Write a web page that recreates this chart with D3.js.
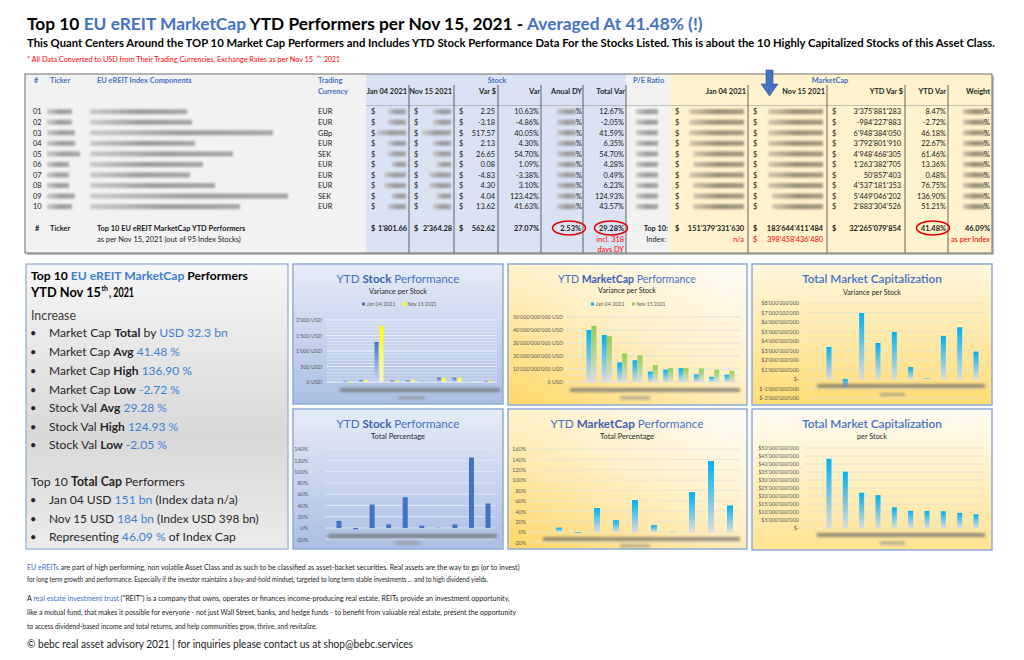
<!DOCTYPE html>
<html><head><meta charset="utf-8">
<script src="https://cdn.jsdelivr.net/npm/d3@7"></script>
<style>body{margin:0;background:#fff;} svg{display:block;}</style>
</head><body>
<svg id="c" width="1024" height="660"></svg>
<script>
// ---------------- DATA ----------------
const rowIds = ["01","02","03","04","05","06","07","08","09","10"];
const currencies = ["EUR","EUR","GBp","EUR","SEK","EUR","EUR","EUR","SEK","EUR"];
const stockJan = [21.17,65.43,1292.3,49.53,48.72,7.34,142.9,138.7,3.27,32.72];
const stockNov = [23.42,62.25,1809.9,51.66,75.37,7.42,138.07,143.0,7.31,46.34];
const stockVarUsd = [2.25,-3.18,517.57,2.13,26.65,0.08,-4.83,4.30,4.04,13.62];
const stockVarPct = [10.63,-4.86,40.05,4.30,54.70,1.09,-3.38,3.10,123.42,41.63];
const stockTotalVarPct = [12.67,-2.05,41.59,6.35,54.70,4.28,0.49,6.23,124.93,43.57];
const mcapJan = [39.86e9,36.18e9,15.05e9,16.73e9,8.05e9,9.45e9,10.6e9,5.91e9,3.98e9,5.63e9];
const mcapNov = [43.23e9,35.2e9,22.0e9,20.52e9,13.0e9,10.72e9,10.65e9,10.45e9,9.43e9,8.51e9];
const mcapVarUsd = [3375881283,-984227883,6948384050,3792801910,4948468305,1263382705,50857403,4537181353,5449046202,2883304526];
const mcapVarPct = [8.47,-2.72,46.18,22.67,61.46,13.36,0.48,76.75,136.90,51.21];
const totalsStock = {jan:1801.66, nov:2364.28, varUsd:562.62, varPct:27.07, dy:2.53, totalVar:29.28, dyDays:318};
const totalsMcap = {jan:151379331630, nov:183644411484, varUsd:32265079854, varPct:41.48, weight:46.09, index:398458436480};
const pctTicksStock = [-20,0,20,40,60,80,100,120,140];
const pctTicksMcap = [-20,0,20,40,60,80,100,120,140,160];
const usdTicksStock = [0,500,1000,1500,2000];
const usdTicksMcap = [0,10e9,20e9,30e9,40e9,50e9];
const usdTicksVar = [-2e9,-1e9,0,1e9,2e9,3e9,4e9,5e9,6e9,7e9,8e9];
const usdTicksCap = [0,5e9,10e9,15e9,20e9,25e9,30e9,35e9,40e9,45e9,50e9];
const legendLabels = ["Jan 04 2021","Nov 15 2021"];

// -------------- SETUP --------------
const FF = "Lato, 'Open Sans', sans-serif";
const BLUE = "#4472c4";
const svg = d3.select("#c");
const defs = svg.append("defs");
const loc = d3.formatLocale({decimal:".", thousands:"'", grouping:[3], currency:["$",""], minus:"-"});
const fInt = loc.format(",.0f"), f2 = loc.format(",.2f");
const pct = v => v.toFixed(2) + "%";

const fb = defs.append("filter").attr("id","blur").attr("x","-30%").attr("y","-300%").attr("width","160%").attr("height","700%");
fb.append("feGaussianBlur").attr("stdDeviation",1.3);
const fb2 = defs.append("filter").attr("id","blur2").attr("x","-30%").attr("y","-300%").attr("width","160%").attr("height","700%");
fb2.append("feGaussianBlur").attr("stdDeviation",1.6);

function grad(id, stops, x1=0,y1=0,x2=0,y2=1){
  const g = defs.append("linearGradient").attr("id",id).attr("x1",x1).attr("y1",y1).attr("x2",x2).attr("y2",y2);
  stops.forEach(s => g.append("stop").attr("offset",s[0]).attr("stop-color",s[1]));
}
grad("pBlue", [[0,"#e6ecf7"],[1,"#aabee3"]]);
grad("pYel", [[0,"#ffd767"],[0.55,"#ffefc2"],[1,"#fffaf0"]], 0,1,0.8,0);
grad("pYel2", [[0,"#fff7de"],[1,"#ffdc74"]]);
grad("pYel3", [[0,"#fffcf3"],[1,"#ffe391"]]);
grad("pGrey", [[0,"#f6f6f6"],[0.6,"#d8d8d8"],[1,"#ebebeb"]]);
grad("bCyan", [[0,"#00b0f0"],[1,"#dcdcdc"]]);
grad("bGreen", [[0,"#92d050"],[1,"#dcdcdc"]]);
grad("bBlue", [[0,"#4472c4"],[1,"#cdd9f0"]]);
grad("bYel", [[0,"#ffff00"],[1,"#fbf6c8"]]);
grad("blurG", [[0,"#c4c4c4"],[0.5,"#8c8c8c"],[1,"#9a9a9a"]], 0,0,1,0);
grad("blurY", [[0,"#c9c1a8"],[0.5,"#857d66"],[1,"#948c76"]], 0,0,1,0);

// text helper: single-run texts are width-matched with textLength,
// multi-run texts are width-matched by scaling the font size
function rich(g, x, y, parts, o){
  const t = g.append("text").attr("x",x).attr("y",y).attr("font-family",FF)
    .attr("font-size",o.fs).attr("fill",o.fill||"#000");
  if (o.anchor) t.attr("text-anchor",o.anchor);
  if (o.fw) t.attr("font-weight",o.fw);
  parts.forEach(p => {
    const s = t.append("tspan").text(p[0]);
    if (p[1]) Object.entries(p[1]).forEach(([k,v]) => s.attr(k,v));
  });
  const fitW = o.fit || (o.len && parts.length > 1 ? o.len : 0);
  if (fitW) {
    const w = t.node().getComputedTextLength();
    if (w > 0) t.attr("font-size", o.fs * fitW / w);
  } else if (o.len) t.attr("textLength",o.len).attr("lengthAdjust","spacingAndGlyphs");
  return t;
}
function blurBar(g, x, y, w, h=4, col="url(#blurG)", f="blur"){
  g.append("rect").attr("x",x).attr("y",y-h/2).attr("width",Math.max(w,1)).attr("height",h)
   .attr("fill",col).attr("opacity",0.85).attr("filter",`url(#${f})`);
}

// -------------- HEADER TEXT --------------
rich(svg, 27, 29.5, [["Top 10 "],["EU eREIT MarketCap",{fill:BLUE}],[" YTD Performers per Nov 15, 2021 - "],["Averaged At 41.48% (!)",{fill:BLUE}]],
  {fs:20, fw:"bold", len:676});
rich(svg, 27, 47, [["This Quant Centers Around the TOP 10 Market Cap Performers and Includes YTD Stock Performance Data For the Stocks Listed. This is about the 10 Highly Capitalized Stocks of this Asset Class."]],
  {fs:11, fw:"bold", len:968});
rich(svg, 27, 61.5, [["* All Data Converted to USD from Their Trading Currencies, Exchange Rates as per Nov 15"]],
  {fs:7.5, fill:"#ff0000", fit:287});
rich(svg, 317, 57.5, [["th"]], {fs:4.2, fill:"#ff0000"});
rich(svg, 324, 61.5, [["2021"]], {fs:7.5, fill:"#ff0000", fit:16});

// -------------- TABLE --------------
const tb = svg.append("g");
tb.append("rect").attr("x",27).attr("y",76).attr("width",967).attr("height",179).attr("fill","#bdbdbd");
[[25,366,"#f2f2f2"],[366,626,"#dae3f3"],[626,670,"#f2f2f2"],[670,992,"#fff2cc"]].forEach(s =>
  tb.append("rect").attr("x",s[0]).attr("y",74).attr("width",s[1]-s[0]).attr("height",179).attr("fill",s[2]));
tb.append("line").attr("x1",366).attr("x2",992).attr("y1",105.5).attr("y2",105.5).attr("stroke","#9a9a9a").attr("stroke-width",0.6);
[409,454,498,541,583,626,748,827,905,948].forEach(x =>
  tb.append("line").attr("x1",x).attr("x2",x).attr("y1",85).attr("y2",253).attr("stroke","#3f3f3f").attr("stroke-width",0.8));
tb.append("rect").attr("x",25).attr("y",74).attr("width",967).attr("height",179).attr("fill","none").attr("stroke","#6f6f6f").attr("stroke-width",1);

const TS = 7.4;
const hdrBlue = (x,y,s,anchor) => rich(tb,x,y,[[s]],{fs:TS,fill:BLUE,fw:"bold",anchor});
hdrBlue(34,83,"#"); hdrBlue(50,83,"Ticker"); hdrBlue(97,83,"EU eREIT Index Components");
hdrBlue(318,83,"Trading"); hdrBlue(318,93.5,"Currency");
hdrBlue(497,83,"Stock","middle"); hdrBlue(633,83,"P/E Ratio"); hdrBlue(830,83,"MarketCap","middle");
const colHdr = [[407,"Jan 04 2021"],[452,"Nov 15 2021"],[496,"Var $"],[540,"Var"],[582,"Anual DY"],[625,"Total Var"],
  [746,"Jan 04 2021"],[825,"Nov 15 2021"],[903,"YTD Var $"],[946,"YTD Var"],[990,"Weight"]];
colHdr.forEach(c => rich(tb,c[0],93.5,[[c[1]]],{fs:TS,fw:"bold",fill:"#262626",anchor:"end"}));

// arrow
tb.append("path").attr("d","M766,70 L773,70 L773,84 L778,84 L769.5,96 L761,84 L766,84 Z")
  .attr("fill","#4472c4").attr("stroke","#2f528f").attr("stroke-width",0.6);

const nameW = [97,102,183,105,143,113,100,125,198,150];
const tickW = [25,25,28,28,33,22,22,22,28,25];
const rowY = i => 111.7 + i*10.55;
const txtT = (x,y,s,o={}) => rich(tb,x,y,[[s]],Object.assign({fs:TS,fill:"#1a1a1a"},o));
const charW = 3.6;
rowIds.forEach((id,i) => {
  const y = rowY(i), b = y + 2.7;
  txtT(33,b,id);
  blurBar(tb,47,y,tickW[i],5);
  blurBar(tb,90,y,nameW[i],5);
  txtT(318,b,currencies[i]);
  txtT(371,b,"$"); blurBar(tb,406-f2(stockJan[i]).length*charW,y,f2(stockJan[i]).length*charW,5);
  txtT(414,b,"$"); blurBar(tb,451-f2(stockNov[i]).length*charW,y,f2(stockNov[i]).length*charW,5);
  txtT(459,b,"$"); txtT(495,b,f2(stockVarUsd[i]),{anchor:"end"});
  txtT(539,b,pct(stockVarPct[i]),{anchor:"end"});
  blurBar(tb,557,y,19,5); txtT(582,b,"%",{anchor:"end"});
  txtT(624,b,pct(stockTotalVarPct[i]),{anchor:"end"});
  blurBar(tb,636,y,22,5);
  txtT(675,b,"$"); blurBar(tb,744-fInt(mcapJan[i]).length*3.9,y,fInt(mcapJan[i]).length*3.9,5,"url(#blurY)");
  txtT(753,b,"$"); blurBar(tb,823-fInt(mcapNov[i]).length*3.9,y,fInt(mcapNov[i]).length*3.9,5,"url(#blurY)");
  txtT(832,b,"$"); txtT(901,b,fInt(mcapVarUsd[i]),{anchor:"end"});
  txtT(946,b,pct(mcapVarPct[i]),{anchor:"end"});
  blurBar(tb,963,y,22,5,"url(#blurY)"); txtT(990,b,"%",{anchor:"end"});
});
// totals
const tyB = 230.5, ty2 = 241.5, ty3 = 251.5;
const bold = {fw:"bold"}, red = {fill:"#ff0000"};
txtT(35,tyB,"#",bold); txtT(50,tyB,"Ticker",bold);
txtT(97,tyB,"Top 10 EU eREIT MarketCap YTD Performers",bold);
txtT(97,ty2,"as per Nov 15, 2021 (out of 95 Index Stocks)");
txtT(371,tyB,"$",bold); txtT(407,tyB,f2(totalsStock.jan),{fw:"bold",anchor:"end"});
txtT(414,tyB,"$",bold); txtT(452,tyB,f2(totalsStock.nov),{fw:"bold",anchor:"end"});
txtT(459,tyB,"$",bold); txtT(495,tyB,f2(totalsStock.varUsd),{fw:"bold",anchor:"end"});
txtT(539,tyB,pct(totalsStock.varPct),{fw:"bold",anchor:"end"});
txtT(581,tyB,pct(totalsStock.dy),{fw:"bold",anchor:"end"});
txtT(624,tyB,pct(totalsStock.totalVar),{fw:"bold",anchor:"end"});
txtT(624,ty2,"incl. " + totalsStock.dyDays,{fill:"#ff0000",anchor:"end"});
txtT(624,ty3,"days DY",{fill:"#ff0000",anchor:"end"});
txtT(668,tyB,"Top 10:",{fw:"bold",anchor:"end"});
txtT(666,ty2,"Index:",{anchor:"end"});
txtT(675,tyB,"$",bold); txtT(744,tyB,fInt(totalsMcap.jan),{fw:"bold",anchor:"end"});
txtT(744,ty2,"n/a",{fill:"#ff0000",anchor:"end"});
txtT(753,tyB,"$",bold); txtT(823,tyB,fInt(totalsMcap.nov),{fw:"bold",anchor:"end"});
txtT(753,ty2,"$",red); txtT(823,ty2,fInt(totalsMcap.index),{fill:"#ff0000",anchor:"end"});
txtT(832,tyB,"$",bold); txtT(901,tyB,fInt(totalsMcap.varUsd),{fw:"bold",anchor:"end"});
txtT(946,tyB,pct(totalsMcap.varPct),{fw:"bold",anchor:"end"});
txtT(990,tyB,pct(totalsMcap.weight),{fw:"bold",anchor:"end"});
txtT(990,ty2,"as per Index",{fill:"#ff0000",anchor:"end"});
[[569,228],[611,228],[933,228]].forEach(c =>
  tb.append("ellipse").attr("cx",c[0]).attr("cy",c[1]).attr("rx",16.5).attr("ry",7).attr("fill","none").attr("stroke","#e00000").attr("stroke-width",1.5));

// -------------- LEFT PANEL --------------
const lp = svg.append("g");
lp.append("rect").attr("x",26).attr("y",264).attr("width",262).attr("height",285).attr("fill","url(#pGrey)").attr("stroke","#8eaadb").attr("stroke-width",1.2);
const LB = "#3d7fd1";
rich(lp,31,280,[["Top 10 "],["EU eREIT MarketCap",{fill:LB}],[" Performers"]],{fs:12.5,fw:"bold",len:217});
rich(lp,31,296.5,[["YTD Nov 15"]],{fs:12.5,fw:"bold",len:70});
rich(lp,101.5,291,[["th"]],{fs:7,fw:"bold"});
rich(lp,109,296.5,[[", 2021"]],{fs:12.5,fw:"bold",len:25});
rich(lp,31,320,[["Increase"]],{fs:12.5,fill:"#404040",len:45});
const bullets = [
  [337,[["Market Cap "],["Total",{"font-weight":"bold"}],[" by "],["USD 32.3 bn",{fill:LB}]],179],
  [356,[["Market Cap "],["Avg",{"font-weight":"bold"}],[" "],["41.48 %",{fill:LB}]],131],
  [375,[["Market Cap "],["High",{"font-weight":"bold"}],[" "],["136.90 %",{fill:LB}]],143],
  [393.5,[["Market Cap "],["Low",{"font-weight":"bold"}],[" "],["-2.72 %",{fill:LB}]],131],
  [412,[["Stock Val "],["Avg",{"font-weight":"bold"}],[" "],["29.28 %",{fill:LB}]],118],
  [430.5,[["Stock Val "],["High",{"font-weight":"bold"}],[" "],["124.93 %",{fill:LB}]],129],
  [449,[["Stock Val "],["Low",{"font-weight":"bold"}],[" "],["-2.05 %",{fill:LB}]],118],
  [504,[["Jan 04 USD "],["151 bn",{fill:LB}],[" (Index data n/a)"]],189],
  [522.5,[["Nov 15 USD "],["184 bn",{fill:LB}],[" (Index USD 398 bn)"]],210],
  [541,[["Representing "],["46.09 %",{fill:LB}],[" of Index Cap"]],187]
];
bullets.forEach(b => {
  rich(lp,30,b[0],[["•"]],{fs:11,fill:"#262626"});
  rich(lp,49,b[0],b[1],{fs:12.5,fill:"#262626",len:b[2]});
});
rich(lp,31,486,[["Top 10 "],["Total Cap",{"font-weight":"bold"}],[" Performers"]],{fs:12.5,fill:"#262626",len:154});

// -------------- CHARTS --------------
function chart(c){
  const g = svg.append("g");
  g.append("rect").attr("x",c.x0).attr("y",c.y0).attr("width",c.x1-c.x0).attr("height",c.y1-c.y0)
    .attr("fill",c.bg).attr("stroke","#8eaadb").attr("stroke-width",1.5);
  rich(g,c.tx,c.ty,c.title,{fs:c.tfs||14,fill:BLUE,anchor:"middle",fit:c.tlen});
  rich(g,c.tx,c.sy,[[c.sub]],{fs:7.5,fill:"#262626",anchor:"middle",len:c.slen});
  const y = d3.scaleLinear().domain(c.yDom).range(c.yRng);
  const x = d3.scaleBand().domain(rowIds).range(c.xRng);
  if (c.minor) {
    g.append("g").selectAll("line").data(d3.range(c.yDom[0], c.yDom[1]+c.minor/2, c.minor)).join("line")
      .attr("x1",c.gx0).attr("x2",c.gx1).attr("y1",d=>y(d)).attr("y2",d=>y(d))
      .attr("stroke",c.gridCol).attr("stroke-width",0.6);
  }
  g.append("g").selectAll("line").data(c.ticks).join("line")
    .attr("x1",c.gx0).attr("x2",c.gx1).attr("y1",d=>y(d)).attr("y2",d=>y(d))
    .attr("stroke",c.gridCol).attr("stroke-width",0.9);
  const ax = g.append("g").attr("transform",`translate(${c.labelX},0)`)
    .call(d3.axisLeft(y).tickValues(c.ticks).tickFormat(c.fmt).tickSize(0).tickPadding(0));
  ax.select(".domain").remove();
  ax.selectAll("text").attr("font-family",FF).attr("font-size",5.4).attr("fill","#595959");
  c.series.forEach(s => {
    g.append("g").selectAll("rect").data(s.vals).join("rect")
      .attr("x",(d,i)=>x(rowIds[i]) + x.bandwidth()/2 + s.off)
      .attr("width",s.w)
      .attr("y",d=>Math.min(y(d),y(0)))
      .attr("height",d=>Math.abs(y(d)-y(0)))
      .attr("fill",s.fill);
  });
  blurBar(g,c.blur[0],c.blur[2],c.blur[1]-c.blur[0],3.5,"#6e6e6e","blur2");
  blurBar(g,c.atb[0],c.atb[2],c.atb[1]-c.atb[0],2.5,"#8a8a8a","blur2");
  if (c.legend) c.legend.forEach((l,i) => {
    g.append("rect").attr("x",l.x).attr("y",c.ly-1.5).attr("width",3).attr("height",3).attr("fill",l.col);
    rich(g,l.x+4.5,c.ly+1.8,[[legendLabels[i]]],{fs:5,fill:"#595959",len:29});
  });
}
const tStock = [["YTD "],["Stock",{"font-weight":"bold",fill:"#3a62b2"}],[" Performance"]];
const tMcap = [["YTD "],["MarketCap",{"font-weight":"bold",fill:"#3a62b2"}],[" Performance"]];
const tTotal = [["Total Market Capitalization",{"font-weight":"600"}]];
const usdFmt = d => fInt(d) + " USD";
const dolFmt = d => d === 0 ? "$-" : (d < 0 ? "$-" + fInt(-d) : "$" + fInt(d));

chart({x0:293,y0:264,x1:503,y1:404,bg:"url(#pBlue)",title:tStock,tx:398,ty:283,tlen:123,sub:"Variance per Stock",sy:293.5,slen:58,
  yDom:[0,2000],yRng:[382,320],ticks:usdTicksStock,fmt:usdFmt,labelX:322,gx0:327,gx1:497,minor:100,gridCol:"#eef2fa",
  xRng:[340,496],series:[{vals:stockJan,fill:"url(#bBlue)",w:4,off:-4.5},{vals:stockNov,fill:"url(#bYel)",w:4,off:0.5}],
  blur:[340,500,390],atb:[398,425,398],ly:304,legend:[{x:362,col:"#4472c4"},{x:403,col:"#ffff00"}]});
chart({x0:508,y0:264,x1:747,y1:405,bg:"url(#pYel)",title:tMcap,tx:627,ty:283,tlen:138,sub:"Variance per Stock",sy:292.5,slen:58,
  yDom:[0,50e9],yRng:[382,317],ticks:usdTicksMcap,fmt:usdFmt,labelX:563,gx0:566,gx1:740,minor:5e9,gridCol:"#e9e4d6",
  xRng:[584.3,737.7],series:[{vals:mcapJan,fill:"url(#bCyan)",w:5,off:-5.5},{vals:mcapNov,fill:"url(#bGreen)",w:5,off:-0.5}],
  blur:[570,740,390],atb:[620,650,398],ly:304,legend:[{x:591,col:"#00b0f0"},{x:632,col:"#92d050"}]});
chart({x0:752,y0:264,x1:992,y1:405,bg:"url(#pYel2)",title:tTotal,tx:872,ty:283,tlen:140,sub:"Variance per Stock",sy:294.5,slen:58,
  yDom:[-2e9,8e9],yRng:[398,303],ticks:usdTicksVar,fmt:dolFmt,labelX:799,gx0:805,gx1:983,gridCol:"#e9e2cc",
  xRng:[820.8,984.2],series:[{vals:mcapVarUsd,fill:"url(#bCyan)",w:5,off:-2.5}],
  blur:[817,985,386],atb:[880,905,394.5]});
chart({x0:293,y0:409,x1:503,y1:549,bg:"url(#pBlue)",title:tStock,tx:398,ty:428,tlen:123,sub:"Total Percentage",sy:439,slen:54,
  yDom:[-20,140],yRng:[539.3,449],ticks:pctTicksStock,fmt:d=>d+"%",labelX:308,gx0:325,gx1:495,gridCol:"#e3e9f5",
  xRng:[330.7,496.3],series:[{vals:stockTotalVarPct,fill:"#4472c4",w:5,off:-2.5}],
  blur:[328,497,536],atb:[395,420,543]});
chart({x0:508,y0:409,x1:747,y1:549,bg:"url(#pYel)",title:tMcap,tx:627,ty:428,tfs:15,tlen:153,sub:"Total Percentage",sy:439,slen:54,
  yDom:[-20,160],yRng:[542.4,449],ticks:pctTicksMcap,fmt:d=>d+"%",labelX:526,gx0:528,gx1:740,gridCol:"#e9e4d6",
  xRng:[549.5,739.5],series:[{vals:mcapVarPct,fill:"url(#bCyan)",w:6,off:-3}],
  blur:[543,740,539],atb:[620,650,546]});
chart({x0:752,y0:409,x1:992,y1:550,bg:"url(#pYel3)",title:tTotal,tx:872,ty:428,tlen:140,sub:"per Stock",sy:439,slen:30,
  yDom:[0,50e9],yRng:[528,448],ticks:usdTicksCap,fmt:dolFmt,labelX:799,gx0:805,gx1:983,gridCol:"#e6e1d3",
  xRng:[820.8,984.2],series:[{vals:mcapNov,fill:"url(#bCyan)",w:5,off:-2.5}],
  blur:[817,985,535],atb:[880,905,543]});

// -------------- FOOTER TEXT --------------
rich(svg,27,570,[["EU eREITs",{fill:BLUE}],[" are part of high performing, non volatile Asset Class and as such to be classified as asset-backet securities. Real assets are the way to go (or to invest)"]],{fs:8,fill:"#1a1a1a",len:493});
rich(svg,27,582,[["for long term growth and performance. Especially if the investor maintains a buy-and-hold mindset, targeted to long term stable investments ... and to high dividend yields."]],{fs:7,fill:"#1a1a1a",len:461});
rich(svg,27,601,[["A "],["real estate investment trust",{fill:BLUE}],[" (\"REIT\") is a company that owns, operates or finances income-producing real estate. REITs provide an investment opportunity,"]],{fs:7,fill:"#1a1a1a",len:483});
rich(svg,27,615,[["like a mutual fund, that makes it possible for everyone - not just Wall Street, banks, and hedge funds - to benefit from valuable real estate, present the opportunity"]],{fs:7,fill:"#1a1a1a",len:489});
rich(svg,27,629,[["to access dividend-based income and total returns, and help communities grow, thrive, and revitalize."]],{fs:7,fill:"#1a1a1a",len:290});
rich(svg,27,648,[["© bebc real asset advisory 2021 | for inquiries please contact us at shop@bebc.services"]],{fs:12,fill:"#1a1a1a",len:386});
</script>
</body></html>
